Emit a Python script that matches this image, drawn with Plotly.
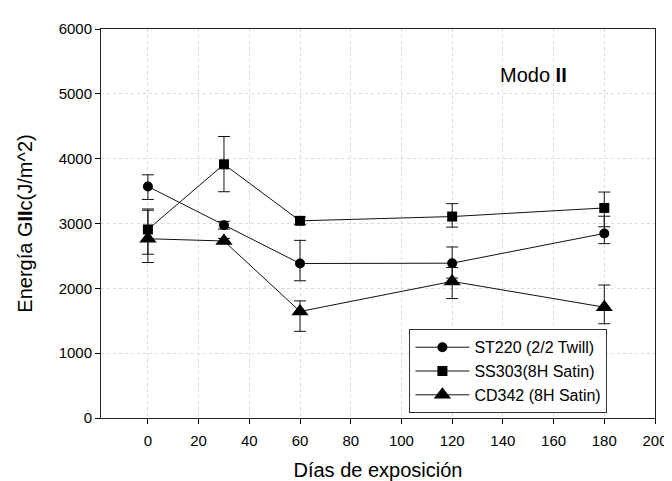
import plotly.graph_objects as go

days = [0, 30, 60, 120, 180]

st220 = [3571, 2974, 2383, 2388, 2847]
st220_up = [180, 60, 357, 250, 265]
st220_dn = [200, 60, 266, 230, 158]

ss303 = [2908, 3913, 3041, 3107, 3240]
ss303_up = [316, 429, 61, 199, 245]
ss303_dn = [382, 423, 56, 163, 290]

cd342 = [2765, 2730, 1643, 2107, 1709]
cd342_up = [439, 40, 163, 214, 342]
cd342_dn = [367, 40, 306, 265, 255]

names = ["ST220 (2/2 Twill)", "SS303(8H Satin)", "CD342 (8H Satin)"]
x_ticks = [0, 20, 40, 60, 80, 100, 120, 140, 160, 180, 200]
y_ticks = [0, 1000, 2000, 3000, 4000, 5000, 6000]

FONT = "Arial, Liberation Sans, sans-serif"

fig = go.Figure()
series = [
    (st220, st220_up, st220_dn, "circle", 10),
    (ss303, ss303_up, ss303_dn, "square", 10),
    (cd342, cd342_up, cd342_dn, "triangle-up", 15),
]
for (vals, up, dn, sym, sz), name in zip(series, names):
    fig.add_trace(go.Scatter(
        x=days, y=vals, name=name, mode="lines+markers",
        line=dict(color="#111111", width=1),
        marker=dict(symbol=sym, size=sz, color="black"),
        error_y=dict(type="data", symmetric=False, array=up, arrayminus=dn,
                     color="#111111", thickness=1, width=6),
    ))

fig.add_annotation(x=152, y=5290, xref="x", yref="y", text="Modo <b>II</b>",
                   showarrow=False, font=dict(family=FONT, size=20, color="black"))

fig.update_layout(
    width=672, height=481,
    margin=dict(l=93, r=15, t=19, b=68),
    paper_bgcolor="white", plot_bgcolor="white",
    font=dict(family=FONT, color="black"),
    showlegend=True,
    legend=dict(x=0.5567, y=0.228, xanchor="left", yanchor="top",
                bordercolor="#333333", borderwidth=1, bgcolor="white",
                font=dict(family=FONT, size=16, color="black"),
                itemwidth=54, tracegroupgap=0),
    xaxis=dict(range=[-18.5, 200], tickvals=x_ticks, ticks="outside", ticklen=5,
               tickcolor="black", tickfont=dict(size=15), showline=True,
               linecolor="#222222", linewidth=1, mirror=True,
               showgrid=True, gridcolor="#d9d9d9", griddash="dot", gridwidth=1,
               zeroline=False, ticklabelstandoff=4,
               title=dict(text="Días de exposición", font=dict(size=20), standoff=14)),
    yaxis=dict(range=[0, 6000], tickvals=y_ticks, ticks="outside", ticklen=5,
               tickcolor="black", tickfont=dict(size=15), showline=True,
               linecolor="#222222", linewidth=1, mirror=True,
               showgrid=True, gridcolor="#d9d9d9", griddash="dot", gridwidth=1,
               zeroline=False,
               title=dict(text="Energía G<b>II</b>c(J/m^2)", font=dict(size=20), standoff=20)),
)

fig.write_html("out.html")
